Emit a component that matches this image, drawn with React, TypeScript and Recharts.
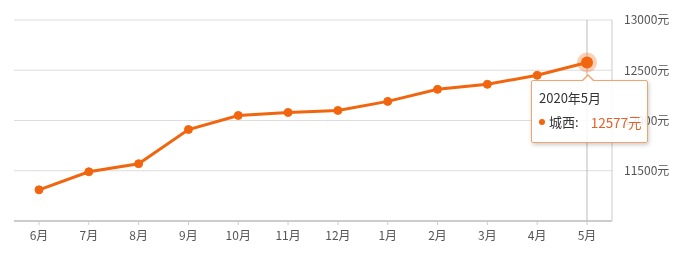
import React from "react";
import { LineChart, Line, XAxis, YAxis, CartesianGrid, Tooltip } from "recharts";

const months = ["6月", "7月", "8月", "9月", "10月", "11月", "12月", "1月", "2月", "3月", "4月", "5月"];
const fullLabels = ["2019年6月", "2019年7月", "2019年8月", "2019年9月", "2019年10月", "2019年11月", "2019年12月", "2020年1月", "2020年2月", "2020年3月", "2020年4月", "2020年5月"];
const prices = [11310, 11490, 11570, 11910, 12050, 12080, 12100, 12190, 12310, 12360, 12450, 12577];
const yTicks = [11500, 12000, 12500, 13000];
const seriesName = "城西";

const data = months.map((m, i) => ({ month: m, full: fullLabels[i], price: prices[i] }));

const ORANGE = "#f2650f";
const TIP_BORDER = "#f0a46e";
const FONT = "'Noto Sans CJK SC', 'Noto Sans', sans-serif";

const TipContent = (props: any) => {
  const { active, payload } = props;
  if (!active || !payload || !payload.length) return null;
  const p = payload[0].payload;
  return (
    <div
      style={{
        position: "relative",
        width: 117,
        height: 63,
        background: "rgba(255,255,255,0.88)",
        border: `1px solid ${TIP_BORDER}`,
        borderRadius: 2,
        boxShadow: "1px 2px 4px rgba(0,0,0,0.2)",
        fontFamily: FONT,
        fontSize: 13,
        color: "#333",
        boxSizing: "border-box",
        padding: "8px 0 0 7px",
      }}
    >
      <div style={{ position: "absolute", left: 50, top: -7, width: 0, height: 0, borderLeft: "6px solid transparent", borderRight: "6px solid transparent", borderBottom: `6px solid ${TIP_BORDER}` }} />
      <div style={{ position: "absolute", left: 51, top: -5, width: 0, height: 0, borderLeft: "5px solid transparent", borderRight: "5px solid transparent", borderBottom: "5px solid #fff" }} />
      <div style={{ lineHeight: "18px" }}>{p.full}</div>
      <div style={{ lineHeight: "18px", marginTop: 6, display: "flex", alignItems: "center" }}>
        <span style={{ display: "inline-block", width: 6, height: 6, borderRadius: 3, background: ORANGE, marginRight: 4 }} />
        <span>{seriesName}:</span>
        <span style={{ color: "#e0642c", marginLeft: 12, fontSize: 13.5 }}>{p.price}元</span>
      </div>
    </div>
  );
};

const ActiveDot = (props: any) => {
  const { cx, cy } = props;
  return (
    <g>
      <circle cx={cx} cy={cy} r={10} fill={ORANGE} fillOpacity={0.3} />
      <circle cx={cx} cy={cy} r={6} fill={ORANGE} />
    </g>
  );
};

export default function App() {
  return (
    <div style={{ position: "fixed", left: 0, top: 0 }}>
      <LineChart width={684} height={253} data={data} margin={{ top: 20, right: 12, bottom: 0, left: 14 }}>
        <CartesianGrid horizontal={true} vertical={false} stroke="#dddddd" />
        <XAxis
          dataKey="month"
          padding={{ left: 25, right: 25 }}
          axisLine={{ stroke: "#cccccc", strokeWidth: 2 }}
          tickLine={{ stroke: "#cccccc" }}
          tickSize={4}
          tick={{ fill: "#555", fontSize: 12, fontFamily: FONT }}
          tickMargin={6}
          height={32}
          interval={0}
        />
        <YAxis
          orientation="right"
          domain={[11000, 13000]}
          ticks={yTicks}
          width={60}
          axisLine={{ stroke: "#cccccc" }}
          tickLine={false}
          tickSize={0}
          tickMargin={12}
          tick={{ fill: "#555", fontSize: 12, fontFamily: FONT, textAnchor: "start" }}
          tickFormatter={(v: number) => `${v}元`}
        />
        <Tooltip
          content={<TipContent />}
          defaultIndex={11}
          active={true}
          position={{ x: 531, y: 80 }}
          cursor={{ stroke: "#bbbbbb", strokeWidth: 1 }}
          wrapperStyle={{ outline: "none" }}
          isAnimationActive={false}
        />
        <Line
          type="linear"
          dataKey="price"
          stroke={ORANGE}
          strokeWidth={3}
          dot={{ r: 4, fill: ORANGE, stroke: ORANGE, strokeWidth: 1 }}
          activeDot={<ActiveDot />}
          isAnimationActive={false}
        />
      </LineChart>
    </div>
  );
}
